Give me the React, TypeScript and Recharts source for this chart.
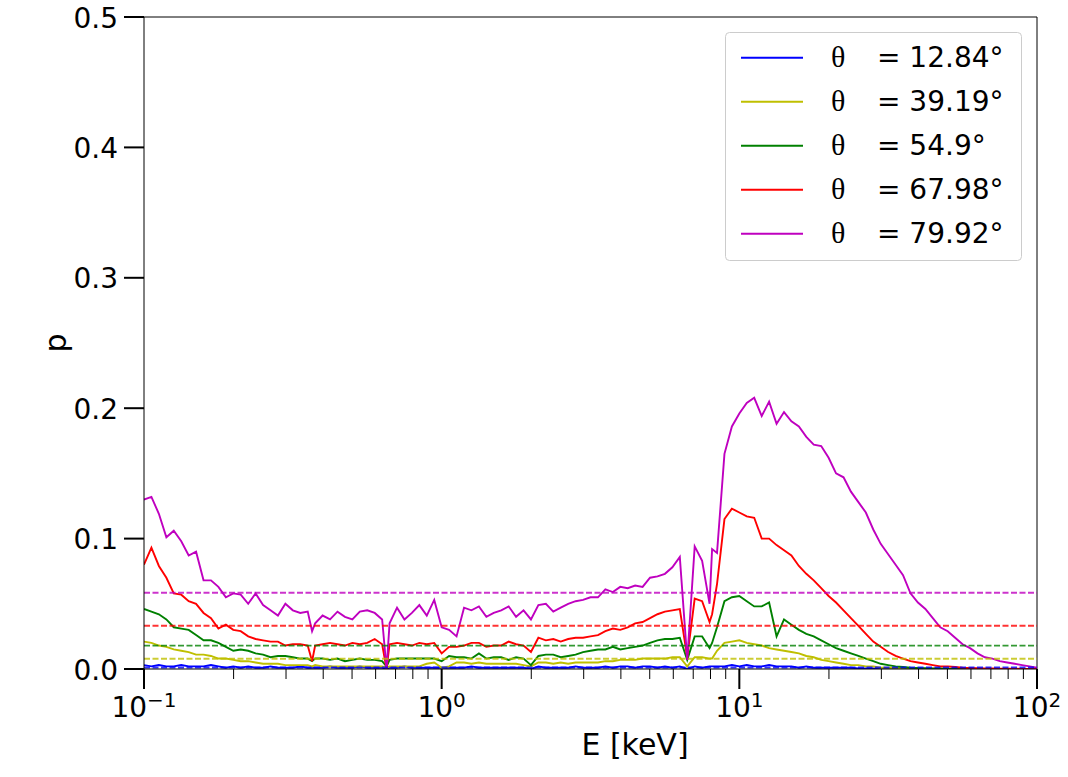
import React from 'react';
import { LineChart, Line, XAxis, YAxis, ReferenceLine } from 'recharts';

// photon energy grid [keV]
const energy = [
  0.1, 0.1059, 0.1122, 0.1189, 0.1259, 0.1334, 0.1413, 0.1496, 0.1585, 0.1679,
  0.1778, 0.1884, 0.1995, 0.2113, 0.2239, 0.2371, 0.2512, 0.2661, 0.2818, 0.2985,
  0.3162, 0.335, 0.3548, 0.367, 0.3758, 0.3981, 0.4217, 0.4467, 0.4732, 0.5012,
  0.5309, 0.5623, 0.5957, 0.631, 0.653, 0.6683, 0.708, 0.7499, 0.7943, 0.8414,
  0.8913, 0.9441,
  1, 1.059, 1.122, 1.189, 1.259, 1.334, 1.413, 1.496, 1.585, 1.679,
  1.778, 1.884, 1.995, 2.113, 2.239, 2.371, 2.512, 2.661, 2.818, 2.985,
  3.162, 3.35, 3.548, 3.758, 3.981, 4.217, 4.467, 4.732, 5.012, 5.309,
  5.623, 5.957, 6.31, 6.683, 7.08, 7.499, 7.943, 8.1, 8.414, 8.913, 9.441,
  10, 10.59, 11.22, 11.89, 12.59, 13.34, 14.13, 14.96, 15.85, 16.79,
  17.78, 18.84, 19.95, 21.13, 22.39, 23.71, 25.12, 26.61, 28.18, 29.85,
  31.62, 33.5, 35.48, 37.58, 39.81, 42.17, 44.67, 47.32, 50.12, 53.09,
  56.23, 59.57, 63.1, 66.83, 70.8, 74.99, 79.43, 84.14, 89.13, 94.41, 100,
];

const pBlue = [
  0.003, 0.002, 0.003, 0.002, 0.002, 0.003, 0.002, 0.002, 0.002, 0.003,
  0.002, 0.001, 0.002, 0.001, 0.002, 0.001, 0.001, 0.002, 0.001, 0.001,
  0.001, 0.002, 0.001, 0.001,
  0.001, 0.001, 0.002, 0.001, 0.001, 0.001, 0.002, 0.001, 0.001, 0.001,
  0.0,
  0.001, 0.001, 0.002, 0.001, 0.001, 0.001, 0.001,
  0.001, 0.001, 0.001, 0.001, 0.002, 0.001, 0.001, 0.001, 0.001, 0.001,
  0.001, 0.001, 0.0, 0.002, 0.001, 0.001, 0.001, 0.001, 0.002, 0.001,
  0.001, 0.001, 0.002, 0.001, 0.002, 0.002, 0.001, 0.002, 0.002, 0.001,
  0.002, 0.001, 0.002, 0.0, 0.002, 0.001, 0.002,
  0.002,
  0.002, 0.002, 0.003,
  0.002, 0.003, 0.002, 0.002, 0.003, 0.002, 0.002, 0.002, 0.001, 0.002,
  0.001, 0.001, 0.001, 0.001, 0.001, 0.001, 0.0005, 0.0005, 0.0005, 0.0003,
  0.0003, 0.0002, 0.0002, 0.0001, 0.0001, 0.0001, 0, 0, 0, 0,
  0, 0, 0, 0, 0, 0, 0, 0, 0, 0, 0,
];

const pYellow = [
  0.021, 0.02, 0.018, 0.017, 0.015, 0.014, 0.013, 0.011, 0.011, 0.01,
  0.008, 0.008, 0.007, 0.006, 0.006, 0.005, 0.004, 0.004, 0.004, 0.003,
  0.003, 0.003, 0.003, 0.002,
  0.003, 0.002, 0.002, 0.002, 0.002, 0.002, 0.002, 0.002, 0.002, 0.002,
  0.001,
  0.002, 0.002, 0.002, 0.002, 0.002, 0.004, 0.005,
  0.001, 0.002, 0.005, 0.005, 0.004, 0.005, 0.004, 0.004, 0.004, 0.004,
  0.004, 0.003, 0.002, 0.005, 0.005, 0.004, 0.005, 0.004, 0.005, 0.005,
  0.005, 0.005, 0.006, 0.006, 0.007, 0.007, 0.007, 0.008, 0.008, 0.008,
  0.008, 0.009, 0.009, 0.002, 0.009, 0.009, 0.008,
  0.008,
  0.014, 0.02, 0.021,
  0.022, 0.02, 0.019, 0.018, 0.016, 0.015, 0.014, 0.013, 0.012, 0.01,
  0.009, 0.007, 0.006, 0.005, 0.004, 0.003, 0.003, 0.002, 0.002, 0.001,
  0.001, 0.0008, 0.0006, 0.0005, 0.0004, 0.0003, 0.0002, 0.0002, 0.0001, 0.0001,
  0.0001, 0, 0, 0, 0, 0, 0, 0, 0, 0, 0,
];

const pGreen = [
  0.046, 0.044, 0.042, 0.038, 0.032, 0.031, 0.03, 0.026, 0.022, 0.022,
  0.02, 0.017, 0.014, 0.015, 0.014, 0.012, 0.011, 0.009, 0.01, 0.01,
  0.009, 0.008, 0.008, 0.006,
  0.008, 0.008, 0.007, 0.008, 0.006, 0.007, 0.008, 0.007, 0.007, 0.006,
  0.002,
  0.007, 0.008, 0.008, 0.008, 0.008, 0.008, 0.008,
  0.006, 0.01, 0.009, 0.009, 0.008, 0.012, 0.008, 0.009, 0.009, 0.007,
  0.009, 0.008, 0.003, 0.01, 0.011, 0.011, 0.009, 0.01, 0.011, 0.013,
  0.014, 0.015, 0.015, 0.017, 0.015, 0.016, 0.017, 0.018, 0.02, 0.022,
  0.023, 0.023, 0.024, 0.007, 0.025, 0.025, 0.016,
  0.02,
  0.032, 0.052, 0.055,
  0.056, 0.052, 0.048, 0.048, 0.051, 0.025, 0.038, 0.034, 0.03, 0.027,
  0.025, 0.022, 0.019, 0.016, 0.014, 0.012, 0.01, 0.008, 0.006, 0.004,
  0.003, 0.002, 0.0015, 0.001, 0.0008, 0.0006, 0.0005, 0.0004, 0.0003, 0.0002,
  0.0002, 0.0001, 0.0001, 0.0001, 0, 0, 0, 0, 0, 0, 0,
];

const pRed = [
  0.08, 0.093, 0.079, 0.07, 0.058, 0.057, 0.052, 0.05, 0.043, 0.039,
  0.031, 0.034, 0.03, 0.029, 0.025, 0.023, 0.022, 0.021, 0.021, 0.018,
  0.019, 0.019, 0.018, 0.006,
  0.018, 0.019, 0.02, 0.019, 0.018, 0.02, 0.019, 0.02, 0.023, 0.019,
  0.0,
  0.019, 0.02, 0.019, 0.018, 0.02, 0.019, 0.02,
  0.012, 0.017, 0.017, 0.018, 0.02, 0.02, 0.017, 0.018, 0.018, 0.021,
  0.019, 0.018, 0.013, 0.024, 0.022, 0.023, 0.021, 0.023, 0.024, 0.024,
  0.025, 0.026, 0.029, 0.031, 0.03, 0.032, 0.035, 0.036, 0.039, 0.042,
  0.044, 0.045, 0.046, 0.009, 0.054, 0.052, 0.036,
  0.042,
  0.065, 0.115, 0.123,
  0.12, 0.117, 0.116, 0.1, 0.1, 0.095, 0.091, 0.087, 0.079, 0.073,
  0.068, 0.062, 0.056, 0.051, 0.045, 0.039, 0.033, 0.027, 0.021, 0.017,
  0.013, 0.01, 0.008, 0.006, 0.005, 0.004, 0.003, 0.002, 0.002, 0.0015,
  0.001, 0.0008, 0.0006, 0.0005, 0.0004, 0.0003, 0.0002, 0.0002, 0.0001, 0.0001, 0,
];

const pMagenta = [
  0.13, 0.132, 0.119, 0.101, 0.106, 0.098, 0.087, 0.09, 0.068, 0.068,
  0.063, 0.055, 0.058, 0.057, 0.05, 0.058, 0.049, 0.045, 0.041, 0.05,
  0.045, 0.043, 0.044, 0.029,
  0.035, 0.041, 0.038, 0.044, 0.04, 0.038, 0.044, 0.045, 0.043, 0.038,
  0.0,
  0.035, 0.047, 0.038, 0.043, 0.049, 0.041, 0.053,
  0.032, 0.03, 0.025, 0.047, 0.045, 0.048, 0.04, 0.043, 0.045, 0.048,
  0.04, 0.045, 0.038, 0.049, 0.05, 0.044, 0.047, 0.05, 0.052, 0.053,
  0.055, 0.055, 0.061, 0.059, 0.063, 0.062, 0.064, 0.063, 0.07, 0.071,
  0.073, 0.078, 0.086, 0.007, 0.094, 0.083, 0.05,
  0.092,
  0.089, 0.165, 0.186,
  0.196, 0.204, 0.208, 0.194, 0.205, 0.188, 0.197, 0.19, 0.186, 0.178,
  0.172, 0.171, 0.162, 0.15, 0.147, 0.136, 0.128, 0.12, 0.107, 0.096,
  0.088, 0.08, 0.072, 0.058, 0.051, 0.046, 0.039, 0.032, 0.029, 0.024,
  0.019, 0.016, 0.012, 0.009, 0.008, 0.006, 0.005, 0.004, 0.003, 0.002, 0.001,
];

// energy-averaged polarisation degree per inclination (dashed lines)
const meanP = [0.0012, 0.0079, 0.0179, 0.0332, 0.0585];

const angles = ['12.84', '39.19', '54.9', '67.98', '79.92'];
const colors = ['#0000ff', '#bfbf00', '#008000', '#ff0000', '#bf00bf'];

const xTicks = [
  0.1, 0.2, 0.3, 0.4, 0.5, 0.6, 0.7, 0.8, 0.9,
  1, 2, 3, 4, 5, 6, 7, 8, 9,
  10, 20, 30, 40, 50, 60, 70, 80, 90, 100,
];
const yTicks = [0, 0.1, 0.2, 0.3, 0.4, 0.5];

const seriesValues = [pBlue, pYellow, pGreen, pRed, pMagenta];

const data = energy.map((e, i) => {
  const row: Record<string, number> = { E: e };
  seriesValues.forEach((s, k) => {
    row['s' + k] = s[i];
  });
  return row;
});

const FONT = 'DejaVu Sans';
const LW = 1.9;

const XTick = (props: any) => {
  const { x, y, payload } = props;
  const lg = Math.log10(payload.value);
  const exp = Math.round(lg);
  const major = Math.abs(lg - exp) < 1e-6;
  return (
    <g>
      <line x1={x} x2={x} y1={y} y2={y + (major ? 20 : 10)} stroke="#000" strokeWidth={major ? 2 : 1} />
      {major && (
        <text x={x} y={y + 48} textAnchor="middle" fontFamily={FONT} fontSize={28} fill="#000">
          10
          <tspan dy={-10.5} fontSize={20}>
            {exp < 0 ? '\u2212' + Math.abs(exp) : String(exp)}
          </tspan>
        </text>
      )}
    </g>
  );
};

const YTick = (props: any) => {
  const { x, y, payload } = props;
  return (
    <g>
      <line x1={x - 20} x2={x} y1={y} y2={y} stroke="#000" strokeWidth={2} />
      <text x={x - 26} y={y + 10.5} textAnchor="end" fontFamily={FONT} fontSize={28} fill="#000">
        {Number(payload.value).toFixed(1)}
      </text>
    </g>
  );
};

const Overlay = () => (
  <svg width={1068} height={777} style={{ position: 'absolute', left: 0, top: 0, pointerEvents: 'none' }}>
    <text x={635} y={755} textAnchor="middle" fontFamily={FONT} fontSize={30} fill="#000">
      E [keV]
    </text>
    <text transform="translate(66,343) rotate(-90)" textAnchor="middle" fontFamily={FONT} fontSize={30} fill="#000">
      p
    </text>
    <rect x={725.5} y={32.5} width={296} height={228} rx={4} fill="#fff" fillOpacity={0.8} stroke="#cccccc" />
    {angles.map((a, k) => {
      const cy = 57.7 + 44 * k;
      return (
        <g key={a}>
          <line x1={741} x2={803} y1={cy} y2={cy} stroke={colors[k]} strokeWidth={LW} />
          <text x={831} y={cy + 9.5} fontFamily="Liberation Serif" fontSize={30} fill="#000">
            θ
          </text>
          <text x={877} y={cy + 9.5} fontFamily={FONT} fontSize={28} fill="#000">
            {'= ' + a + '°'}
          </text>
        </g>
      );
    })}
  </svg>
);

export default function App() {
  return (
    <div style={{ position: 'relative', width: 1068, height: 777, background: '#fff' }}>
      <style>{'body{margin:0}'}</style>
      <LineChart width={1068} height={777} data={data} margin={{ top: 17, right: 31, bottom: 0, left: 0 }}>
        <XAxis
          dataKey="E"
          type="number"
          scale="log"
          domain={[0.1, 100]}
          ticks={xTicks}
          interval={0}
          allowDataOverflow
          height={108}
          tickSize={0}
          tickMargin={0}
          tickLine={false}
          tick={<XTick />}
          axisLine={{ stroke: '#000', strokeWidth: 1 }}
        />
        <YAxis
          type="number"
          domain={[0, 0.5]}
          ticks={yTicks}
          interval={0}
          allowDataOverflow
          width={144}
          tickSize={0}
          tickMargin={0}
          tickLine={false}
          tick={<YTick />}
          axisLine={{ stroke: '#000', strokeWidth: 1 }}
        />
        <ReferenceLine y={0.5} stroke="#000" strokeWidth={1} />
        <ReferenceLine x={100} stroke="#000" strokeWidth={1} />
        {seriesValues.map((_, k) => (
          <Line
            key={'s' + k}
            dataKey={'s' + k}
            type="linear"
            stroke={colors[k]}
            strokeWidth={LW}
            dot={false}
            activeDot={false}
            isAnimationActive={false}
          />
        ))}
        {meanP.map((m, k) => (
          <ReferenceLine
            key={'m' + k}
            y={m}
            stroke={colors[k]}
            strokeOpacity={0.8}
            strokeWidth={LW}
            strokeDasharray="6 2.5"
          />
        ))}
      </LineChart>
      <Overlay />
    </div>
  );
}
